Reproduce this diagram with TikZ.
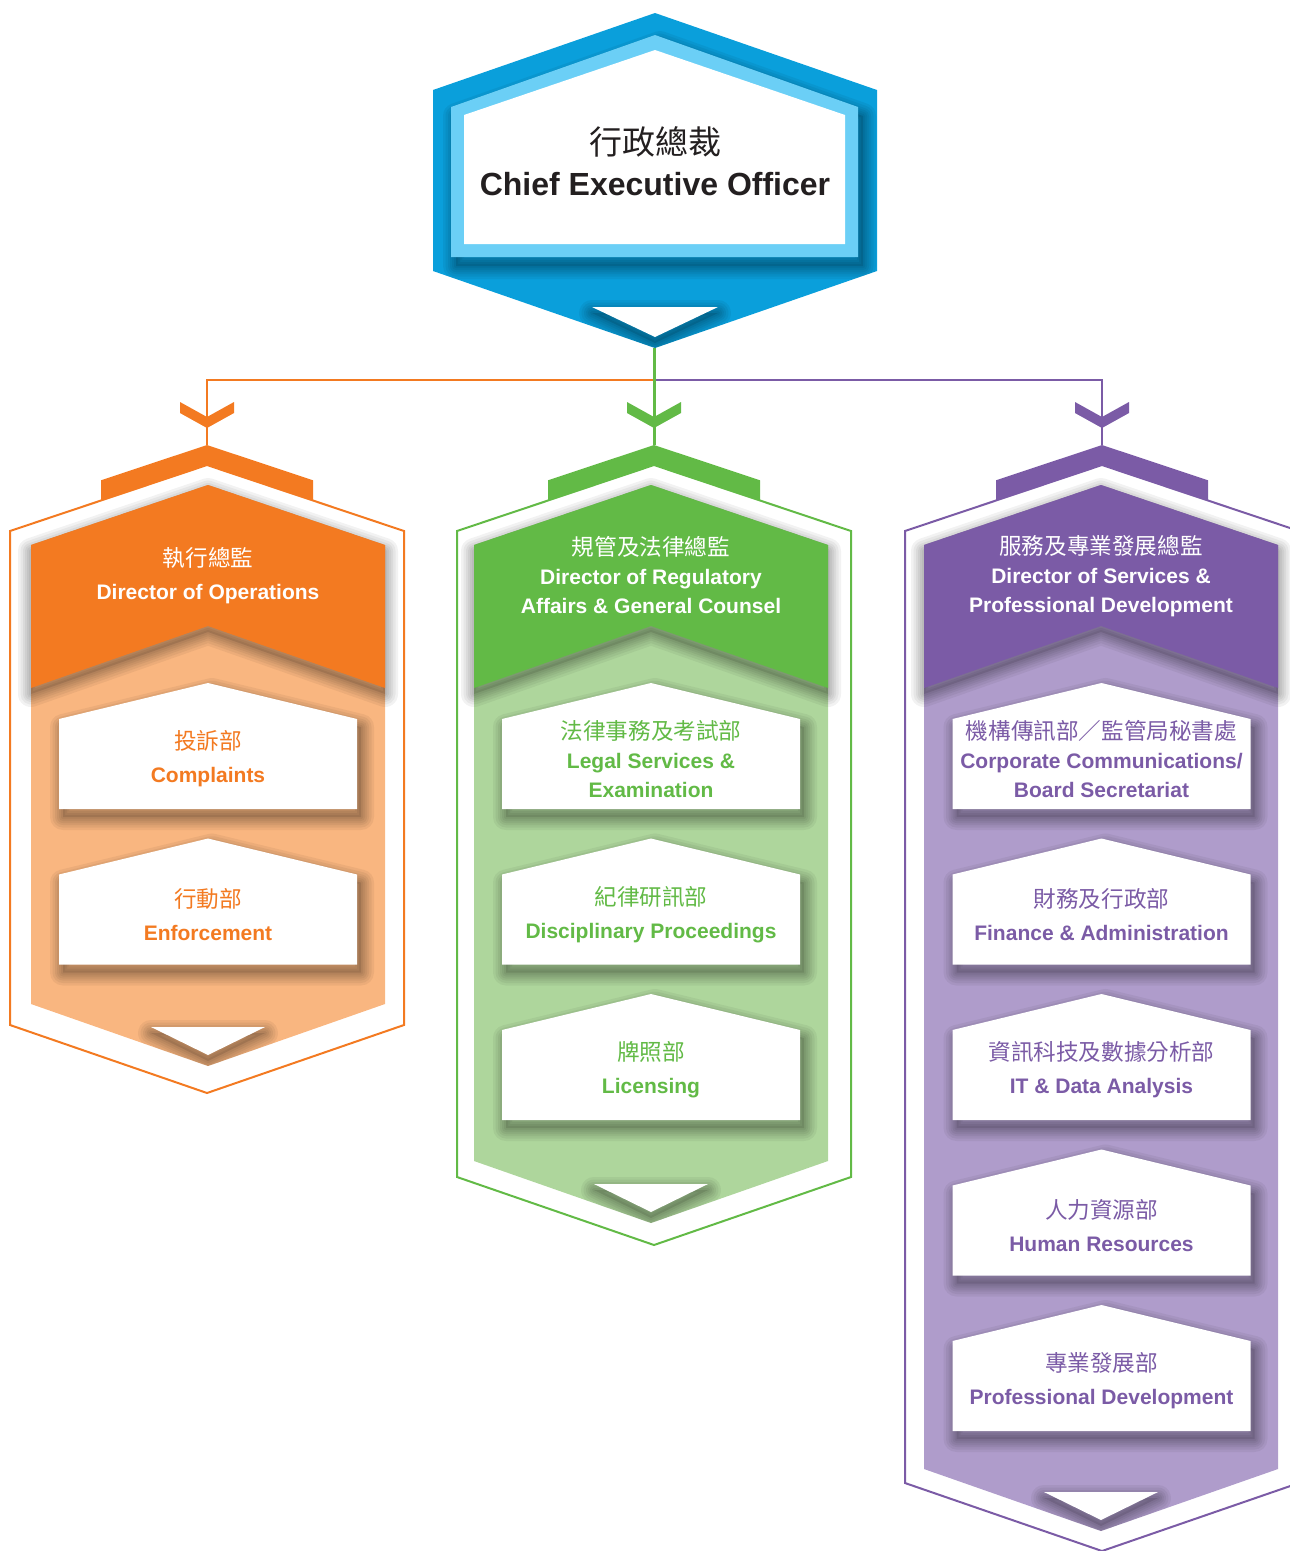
\documentclass[tikz,border=0pt]{standalone}
\usepackage{fontspec}
\setmainfont{Liberation Sans}
\newfontfamily\cjk{Noto Sans CJK TC}
\newcommand\zh[1]{{\cjk\mdseries\fontsize{22.6}{22.6}\selectfont #1}}
\definecolor{ordark}{HTML}{F37A21}
\definecolor{orlight}{HTML}{F9B680}
\definecolor{grdark}{HTML}{62BA46}
\definecolor{grlight}{HTML}{AED69C}
\definecolor{pudark}{HTML}{7B5BA6}
\definecolor{pulight}{HTML}{AF9CCB}
\definecolor{bldark}{HTML}{0A9FDB}
\definecolor{bllight}{HTML}{6BCFF6}
\definecolor{inkblack}{HTML}{231F20}
\tikzset{
  dirtext/.style={text=white,align=center,font=\fontsize{21}{#1}\selectfont\bfseries},
  depttext/.style={align=center,font=\fontsize{21}{#1}\selectfont\bfseries},
  busline/.style={line width=2.5pt},
}
\newcommand\softshadow[3]{%
  \begin{scope}[shift={(#1,#2)}]
    \foreach \sw in {26,21,16,12,8,4}{%
      \draw[black,opacity=0.05,line width=\sw pt,line join=round] #3;}
    \fill[black,opacity=0.1] #3;
  \end{scope}}
% #1 frame centre, #2 fill centre, #3 dark, #4 light, #5 frame bottom, #6 fill bottom
\newcommand\orgcol[6]{%
  \draw[#3,line width=2pt] (#1,465) -- ({#1-197},531) -- ({#1-197},#5) -- (#1,{#5+68})
     -- ({#1+197},#5) -- ({#1+197},531) -- cycle;
  \fill[#3] (#1,445) -- ({#1-106},480.3) -- ({#1-106},500.5) -- (#1,465)
     -- ({#1+106},500.5) -- ({#1+106},480.3) -- cycle;
  \fill[#4] (#2,485) -- ({#2-177},545) -- ({#2-177},#6) -- (#2,{#6+62}) -- ({#2+177},#6) -- ({#2+177},545) -- cycle;
  \softshadow{0}{6}{(#2,485) -- ({#2-177},545) -- ({#2-177},688) -- (#2,626) -- ({#2+177},688) -- ({#2+177},545) -- cycle}
  \fill[#3] (#2,485) -- ({#2-177},545) -- ({#2-177},688) -- (#2,626) -- ({#2+177},688) -- ({#2+177},545) -- cycle;
  \begin{scope}
    \clip (#2,485) -- ({#2-177},545) -- ({#2-177},#6) -- (#2,{#6+62}) -- ({#2+177},#6) -- ({#2+177},545) -- cycle;
    \softshadow{0}{6}{({#2-57},{#6+23}) -- ({#2+57},{#6+23}) -- (#2,{#6+51}) -- cycle}
  \end{scope}
  \fill[white] ({#2-57},{#6+23}) -- ({#2+57},{#6+23}) -- (#2,{#6+51}) -- cycle;
  \fill[#3] ({#1-27},402) -- (#1,417) -- ({#1+27},402) -- ({#1+27},413) -- (#1,428) -- ({#1-27},413) -- cycle;
}
% #1 name, #2 centre x, #3 apex y, #4 text colour, #5 baselineskip, #6 text
\newcommand\deptbox[6]{%
  \softshadow{4}{8}{(#2,#3) -- ({#2-149},{#3+36}) -- ({#2-149},{#3+126}) -- ({#2+149},{#3+126}) -- ({#2+149},{#3+36}) -- cycle}
  \fill[white] (#2,#3) -- ({#2-149},{#3+36}) -- ({#2-149},{#3+126}) -- ({#2+149},{#3+126}) -- ({#2+149},{#3+36}) -- cycle;
  \node[depttext=#5,text=#4] (#1) at (#2,{#3+76}) {#6};
}
\begin{document}
\begin{tikzpicture}[x=1pt,y=-1pt]
\useasboundingbox (0,0) rectangle (1290,1551);
\clip (0,0) rectangle (1290,1551);

% ---------- connectors ----------
\coordinate (ceo-tip) at (654,348);
\coordinate (bus) at (654,380);
\coordinate (op-top) at (207,445);
\coordinate (rg-top) at (654,445);
\coordinate (sv-top) at (1102,445);
\draw[ordark,busline] (bus) -| (op-top);
\draw[pudark,busline] (bus) -| (sv-top);
\draw[grdark,line width=3pt] (ceo-tip) -- (rg-top);

% ---------- columns ----------
\orgcol{207}{208}{ordark}{orlight}{1025}{1004}
\orgcol{654}{651}{grdark}{grlight}{1177}{1161}
\orgcol{1102}{1101}{pudark}{pulight}{1483}{1469}

% ---------- CEO ----------
\fill[bldark] (655,13) -- (433,90) -- (433,271) -- (655,348) -- (877,271) -- (877,90) -- cycle;
\begin{scope}
  \clip (655,13) -- (433,90) -- (433,271) -- (655,348) -- (877,271) -- (877,90) -- cycle;
  \softshadow{5}{9}{(655,35) -- (451,107) -- (451,257) -- (858,257) -- (858,107) -- cycle}
  \softshadow{0}{6}{(592,307) -- (718,307) -- (655,337) -- cycle}
\end{scope}
\fill[bllight] (655,35) -- (451,107) -- (451,257) -- (858,257) -- (858,107) -- cycle;
\fill[white] (655,50) -- (464,115) -- (464,244) -- (845,244) -- (845,115) -- cycle;
\fill[white] (592,307) -- (718,307) -- (655,337) -- cycle;
\node[align=center,text=inkblack,font=\fontsize{32}{41}\selectfont\bfseries] (ceo) at (655,161)
  {{\cjk\mdseries\fontsize{33}{41}\selectfont 行政總裁}\\Chief Executive Officer};

% ---------- directors ----------
\node[dirtext=33] (dop) at (208,576) {\zh{執行總監}\\Director of Operations};
\node[dirtext=29] (drg) at (651,575) {\zh{規管及法律總監}\\Director of Regulatory\\Affairs \& General Counsel};
\node[dirtext=29] (dsv) at (1101,576) {\zh{服務及專業發展總監}\\Director of Services \&\\Professional Development};

% ---------- departments ----------
\deptbox{cmp}{208}{683}{ordark}{33}{\zh{投訴部}\\Complaints}
\deptbox{enf}{208}{838.5}{ordark}{33}{\zh{行動部}\\Enforcement}

\deptbox{lse}{651}{683}{grdark}{29}{\zh{法律事務及考試部}\\Legal Services \&\\Examination}
\deptbox{dis}{651}{838.5}{grdark}{33}{\zh{紀律研訊部}\\Disciplinary Proceedings}
\deptbox{lic}{651}{994}{grdark}{33}{\zh{牌照部}\\Licensing}

\deptbox{ccb}{1101.5}{683}{pudark}{29}{\zh{機構傳訊部／監管局秘書處}\\Corporate Communications/\\Board Secretariat}
\deptbox{fin}{1101.5}{838.5}{pudark}{33}{\zh{財務及行政部}\\Finance \& Administration}
\deptbox{itd}{1101.5}{994}{pudark}{33}{\zh{資訊科技及數據分析部}\\IT \& Data Analysis}
\deptbox{hrs}{1101.5}{1149.5}{pudark}{33}{\zh{人力資源部}\\Human Resources}
\deptbox{pdv}{1101.5}{1305}{pudark}{33}{\zh{專業發展部}\\Professional Development}
\end{tikzpicture}
\end{document}
